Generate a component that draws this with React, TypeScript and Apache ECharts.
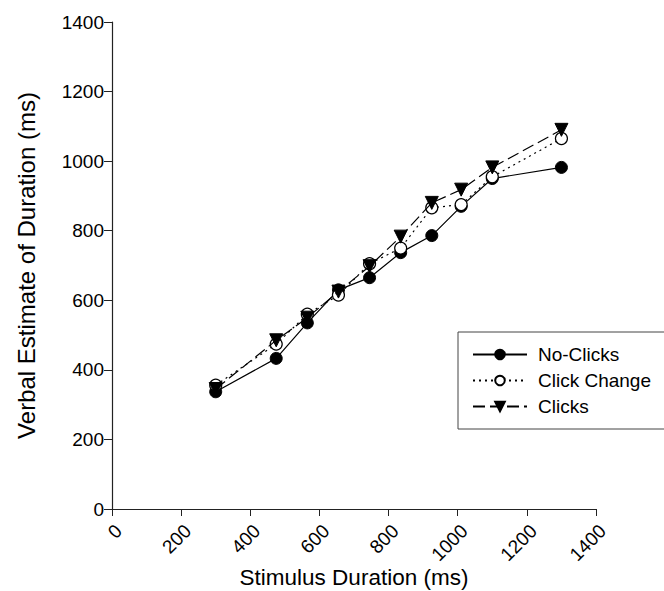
import React, { useEffect, useRef } from "react";
import * as echarts from "echarts";

const durations = [300, 475, 565, 655, 745, 835, 925, 1010, 1100, 1300];
const noClicks = [337, 433, 535, 630, 665, 737, 786, 870, 950, 982];
const clickChange = [356, 474, 560, 615, 705, 750, 866, 875, 955, 1065];
const clicks = [345, 485, 550, 625, 698, 783, 880, 918, 982, 1090];
const seriesNames = ["No-Clicks", "Click Change", "Clicks"];

const FONT = "Liberation Sans, Arial, sans-serif";

export default function App() {
  const ref = useRef<HTMLDivElement>(null);
  useEffect(() => {
    if (!ref.current) return;
    const chart = echarts.init(ref.current, undefined, { renderer: "svg" });
    const pair = (ys: number[]) => durations.map((x, i) => [x, ys[i]]);
    const axisLine = { show: true, lineStyle: { color: "#222", width: 1.2 } };
    const fmt = (v: number) => String(v);
    chart.setOption({
      animation: false,
      backgroundColor: "#fff",
      textStyle: { fontFamily: FONT, color: "#000" },
      grid: {
        left: 112,
        top: 22,
        right: 68,
        bottom: 82,
        containLabel: false,
        outerBoundsMode: "none",
      },
      legend: {
        orient: "vertical",
        left: 458,
        top: 332,
        padding: [13, 14, 13, 14],
        itemGap: 7,
        itemWidth: 54,
        itemHeight: 12,
        borderColor: "#444",
        borderWidth: 1,
        textStyle: { fontFamily: FONT, fontSize: 19, color: "#000", padding: [0, 0, 0, 6] },
        data: seriesNames,
      },
      xAxis: {
        type: "value",
        min: 0,
        max: 1400,
        interval: 200,
        name: "Stimulus Duration (ms)",
        nameLocation: "middle",
        nameGap: 57,
        nameMoveOverlap: false,
        nameTextStyle: { fontFamily: FONT, fontSize: 22.5, color: "#000" },
        axisLine,
        axisTick: { show: true, inside: false, length: 7, lineStyle: { color: "#222" } },
        axisLabel: {
          rotate: 45,
          fontSize: 19,
          color: "#000",
          fontFamily: FONT,
          margin: 12,
          verticalAlign: "top",
          formatter: fmt,
        },
        splitLine: { show: false },
      },
      yAxis: {
        type: "value",
        min: 0,
        max: 1400,
        interval: 200,
        name: "Verbal Estimate of Duration (ms)",
        nameLocation: "middle",
        nameGap: 74,
        nameMoveOverlap: false,
        nameTextStyle: { fontFamily: FONT, fontSize: 24, color: "#000" },
        axisLine,
        axisTick: { show: true, inside: false, length: 8, lineStyle: { color: "#222" } },
        axisLabel: { fontSize: 19, color: "#000", fontFamily: FONT, margin: 8, formatter: fmt },
        splitLine: { show: false },
      },
      series: [
        {
          name: "No-Clicks",
          type: "line",
          data: pair(noClicks),
          symbol: "circle",
          symbolSize: 12,
          z: 2,
          lineStyle: { color: "#000", width: 1.2, type: "solid" },
          itemStyle: { color: "#000", borderColor: "#000", borderWidth: 1 },
        },
        {
          name: "Click Change",
          type: "line",
          data: pair(clickChange),
          symbol: "circle",
          symbolSize: 12,
          z: 3,
          lineStyle: { color: "#000", width: 1.2, type: [2, 4] },
          itemStyle: { color: "#fff", borderColor: "#000", borderWidth: 1.2 },
        },
        {
          name: "Clicks",
          type: "line",
          data: pair(clicks),
          symbol: "triangle",
          symbolRotate: 180,
          symbolSize: 13,
          z: 4,
          lineStyle: { color: "#000", width: 1.2, type: [12, 5] },
          itemStyle: { color: "#000", borderColor: "#000", borderWidth: 1 },
        },
      ],
    });
    return () => chart.dispose();
  }, []);
  return (
    <div
      ref={ref}
      style={{ position: "absolute", left: 0, top: 0, width: 664, height: 591 }}
    />
  );
}
